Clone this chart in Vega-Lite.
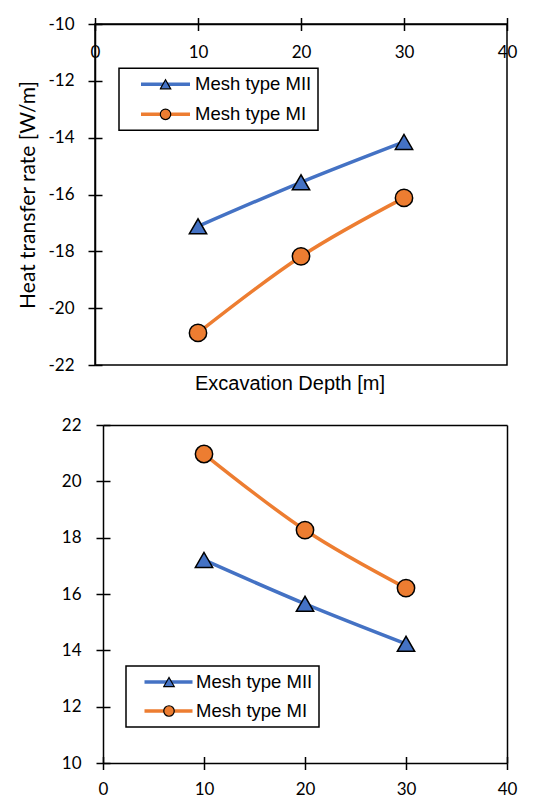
{
  "$schema": "https://vega.github.io/schema/vega-lite/v6.json",
  "padding": {"left": 17, "top": 14, "right": 5, "bottom": 5},
  "background": "white",
  "spacing": 21,
  "resolve": {"scale": {"color": "independent", "fill": "independent", "shape": "independent"}, "legend": {"color": "independent", "fill": "independent", "shape": "independent"}},
  "config": {
    "view": {"stroke": "black", "strokeWidth": 1.5},
    "axis": {
      "domainColor": "black", "domainWidth": 1.5,
      "tickColor": "black", "tickWidth": 1.5,
      "labelFont": "Lato", "labelFontSize": 17, "labelColor": "black",
      "labelFlush": false, "labelOverlap": false,
      "gridColor": "black", "gridWidth": 1.5, "gridOpacity": 1,
      "titleFont": "Lato", "titleFontSize": 21, "titleFontWeight": "normal", "titleColor": "black"
    },
    "legend": {"strokeWidth": 1.5, "labelFont": "Liberation Sans", "labelColor": "black"}
  },
  "datasets": {
    "top": [
      {"depth": 10, "rate": -17.12, "series": "Mesh type MII"},
      {"depth": 20, "rate": -15.57, "series": "Mesh type MII"},
      {"depth": 30, "rate": -14.15, "series": "Mesh type MII"},
      {"depth": 10, "rate": -20.87, "series": "Mesh type MI"},
      {"depth": 20, "rate": -18.18, "series": "Mesh type MI"},
      {"depth": 30, "rate": -16.12, "series": "Mesh type MI"}
    ],
    "bottom": [
      {"depth": 10, "rate": 17.21, "series": "Mesh type MII"},
      {"depth": 20, "rate": 15.65, "series": "Mesh type MII"},
      {"depth": 30, "rate": 14.23, "series": "Mesh type MII"},
      {"depth": 10, "rate": 20.97, "series": "Mesh type MI"},
      {"depth": 20, "rate": 18.27, "series": "Mesh type MI"},
      {"depth": 30, "rate": 16.21, "series": "Mesh type MI"}
    ]
  },
  "vconcat": [
    {
      "width": 412,
      "height": 341,
      "data": {"name": "top"},
      "title": {"text": "Excavation Depth [m]", "orient": "bottom", "anchor": "middle", "frame": "group", "offset": 1, "dx": -11, "font": "Liberation Sans", "fontSize": 20, "fontWeight": "normal", "color": "black"},
      "layer": [
        {
          "mark": {"type": "line", "strokeWidth": 3.5, "interpolate": "monotone"},
          "encoding": {
            "x": {"field": "depth", "type": "quantitative", "scale": {"domain": [0, 40]},
              "axis": {"orient": "top", "values": [0, 10, 20, 30, 40], "tickSize": 6.5, "labelPadding": -39.5, "labelBaseline": "alphabetic", "title": null, "grid": true, "gridDash": [0, 334.5, 6.5, 1000]}},
            "y": {"field": "rate", "type": "quantitative", "scale": {"domain": [-22, -10]},
              "axis": {"values": [-22, -20, -18, -16, -14, -12, -10], "tickSize": 7, "labelPadding": 14, "labelExpr": "datum.value + ''", "title": "Heat transfer rate [W/m]", "titlePadding": 9, "grid": true, "gridDash": [7, 1000]}},
            "color": {"field": "series", "type": "nominal",
              "scale": {"domain": ["Mesh type MII", "Mesh type MI"], "range": ["#4472C4", "#ED7D31"]},
              "legend": {"orient": "none", "legendX": 24, "legendY": 44.3, "title": null, "symbolType": "stroke", "symbolSize": 2401, "symbolStrokeWidth": 3.5, "symbolOffset": 14, "labelOffset": 3, "labelFontSize": 18.5, "padding": 6, "clipHeight": 20, "rowPadding": 10, "strokeColor": "black", "fillColor": "white"}}
          }
        },
        {
          "mark": {"type": "point", "filled": true, "stroke": "black", "strokeWidth": 1.5, "opacity": 1, "size": 300,
            "shape": {"expr": "(datum.value === 'Mesh type MII' || datum.series === 'Mesh type MII') ? 'triangle-up' : 'circle'"}},
          "encoding": {
            "x": {"field": "depth", "type": "quantitative"},
            "y": {"field": "rate", "type": "quantitative"},
            "fill": {"field": "series", "type": "nominal", "sort": ["Mesh type MII", "Mesh type MI"], "scale": {"range": ["#4472C4", "#ED7D31"]},
              "legend": {"orient": "none", "legendX": 64.5, "legendY": 50.3, "title": null, "symbolSize": 110, "symbolStrokeColor": "black", "symbolStrokeWidth": 1.2, "labelExpr": "''", "labelOpacity": 0, "labelFontSize": 10, "padding": 0, "clipHeight": 20, "rowPadding": 10}},
            "shape": {"field": "series", "type": "nominal", "sort": ["Mesh type MII", "Mesh type MI"],
              "scale": {"range": ["triangle-up", "circle"]}, "legend": null}
          }
        }
      ]
    },
    {
      "width": 412,
      "height": 338,
      "data": {"name": "bottom"},
      "view": {"stroke": null},
      "resolve": {"axis": {"x": "independent", "y": "independent"}},
      "layer": [
        {
          "mark": {"type": "line", "strokeWidth": 3.5, "interpolate": "monotone"},
          "encoding": {
            "x": {"field": "depth", "type": "quantitative", "scale": {"domain": [0, 40], "range": [8, 412]},
              "axis": {"orient": "bottom", "values": [0, 10, 20, 30, 40], "tickSize": 6.5, "labelPadding": 12, "title": null, "grid": true, "gridDash": [0, 331.5, 6.5, 1000]}},
            "y": {"field": "rate", "type": "quantitative", "scale": {"domain": [10, 22]},
              "axis": {"orient": "left", "offset": -8, "values": [10, 12, 14, 16, 18, 20, 22], "tickSize": 7, "labelPadding": 15, "title": null, "grid": true, "gridDash": [7, 1000]}},
            "color": {"field": "series", "type": "nominal",
              "scale": {"domain": ["Mesh type MII", "Mesh type MI"], "range": ["#4472C4", "#ED7D31"]},
              "legend": {"orient": "none", "legendX": 31, "legendY": 241, "title": null, "symbolType": "stroke", "symbolSize": 2304, "symbolStrokeWidth": 3.5, "symbolOffset": 10.5, "labelOffset": 1.5, "labelFontSize": 18.5, "padding": 6, "clipHeight": 20, "rowPadding": 9, "strokeColor": "black", "fillColor": "white"}}
          }
        },
        {
          "mark": {"type": "point", "filled": true, "stroke": "black", "strokeWidth": 1.5, "opacity": 1, "size": 300,
            "shape": {"expr": "(datum.value === 'Mesh type MII' || datum.series === 'Mesh type MII') ? 'triangle-up' : 'circle'"}},
          "encoding": {
            "x": {"field": "depth", "type": "quantitative",
              "axis": {"orient": "top", "labels": false, "ticks": false, "grid": false, "domain": true, "title": null}},
            "y": {"field": "rate", "type": "quantitative",
              "axis": {"orient": "right", "labels": false, "ticks": false, "grid": false, "domain": true, "title": null}},
            "fill": {"field": "series", "type": "nominal", "sort": ["Mesh type MII", "Mesh type MI"], "scale": {"range": ["#4472C4", "#ED7D31"]},
              "legend": {"orient": "none", "legendX": 68, "legendY": 247, "title": null, "symbolSize": 110, "symbolStrokeColor": "black", "symbolStrokeWidth": 1.2, "labelExpr": "''", "labelOpacity": 0, "labelFontSize": 10, "padding": 0, "clipHeight": 20, "rowPadding": 9}},
            "shape": {"field": "series", "type": "nominal", "sort": ["Mesh type MII", "Mesh type MI"],
              "scale": {"range": ["triangle-up", "circle"]}, "legend": null}
          }
        }
      ]
    }
  ]
}
